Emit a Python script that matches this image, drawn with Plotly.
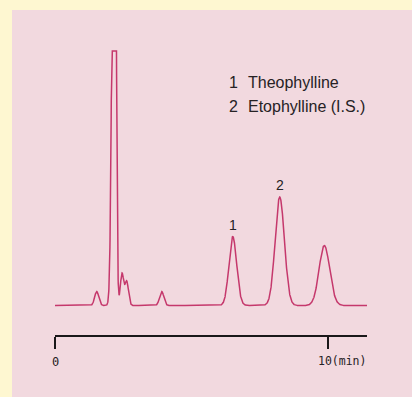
import numpy as np
import plotly.graph_objects as go

# Peak table of the chromatogram (retention time in min, height in arbitrary units,
# left/right peak widths as standard deviations in min)
peak_times = [1.526, 2.177, 2.452, 2.623, 3.904, 6.502, 8.222, 9.853]
peak_heights = [14, 700, 32, 24, 14, 69, 108.5, 60]
peak_sigma_left = [0.075, 0.075, 0.062, 0.062, 0.078, 0.138, 0.168, 0.19]
peak_sigma_right = [0.075, 0.0512, 0.062, 0.066, 0.078, 0.145, 0.172, 0.198]

# Recorder full scale (the solvent front goes off-scale)
full_scale = 254.5

# Run length and time axis ticks
run_end = 11.416
tick_times = [0, 10]
tick_labels = ["0", "10(min)"]

# Identified peaks and the legend listing them
peak_ids = ["1", "2"]
peak_id_index = [5, 6]
compound_names = ["Theophylline", "Etophylline (I.S.)"]

TRACE = "#C5386C"
INK = "#262224"
AXIS = "#1a1819"
PINK = "#F2D9DF"
CREAM = "#FEF7D1"

t = np.linspace(0, run_end, 3000)
signal = np.zeros_like(t)
for rt, h, sl, sr in zip(peak_times, peak_heights, peak_sigma_left, peak_sigma_right):
    s = np.where(t < rt, sl, sr)
    signal += h * np.exp(-0.5 * ((t - rt) / s) ** 2)
signal = np.minimum(signal, full_scale)

fig = go.Figure(
    go.Scatter(
        x=t, y=signal, mode="lines",
        line=dict(color=TRACE, width=1.5),
        hoverinfo="skip", showlegend=False,
    )
)

annotations = []

# peak numbers above identified peaks
for pid, idx in zip(peak_ids, peak_id_index):
    annotations.append(dict(
        x=peak_times[idx], y=peak_heights[idx], xref="x", yref="y",
        text=pid, showarrow=False, yanchor="middle", xanchor="center",
        yshift=12, font=dict(family="Liberation Sans, Arial, sans-serif", size=14, color=INK),
    ))

# compound list
legend_y = [0.855, 0.7756]
for pid, name, yy in zip(peak_ids, compound_names, legend_y):
    annotations.append(dict(
        x=0.551, y=yy, xref="paper", yref="paper", text=pid, showarrow=False,
        xanchor="left", yanchor="middle",
        font=dict(family="Liberation Sans, Arial, sans-serif", size=16, color=INK),
    ))
    annotations.append(dict(
        x=0.611, y=yy, xref="paper", yref="paper", text=name, showarrow=False,
        xanchor="left", yanchor="middle",
        font=dict(family="Liberation Sans, Arial, sans-serif", size=16, color=INK),
    ))

# time axis labels
annotations.append(dict(
    x=tick_times[0], y=-0.0915, xref="x", yref="paper", text=tick_labels[0],
    showarrow=False, xanchor="center", yanchor="middle",
    font=dict(family="DejaVu Sans Mono, monospace", size=12, color=INK),
))
annotations.append(dict(
    x=tick_times[1] - 0.45, y=-0.0865, xref="x", yref="paper", text=tick_labels[1],
    showarrow=False, xanchor="left", yanchor="middle",
    font=dict(family="DejaVu Sans Mono, monospace", size=11.5, color=INK),
))

fig.update_layout(
    width=412, height=397, autosize=False,
    margin=dict(l=55, r=45, t=40, b=62, pad=0),
    paper_bgcolor=CREAM, plot_bgcolor="rgba(0,0,0,0)",
    shapes=[dict(
        type="rect", xref="paper", yref="paper",
        x0=-0.1378, x1=1.2, y0=-0.25, y1=1.1017,
        fillcolor=PINK, line=dict(width=0), layer="below",
    )],
    annotations=annotations,
    xaxis=dict(
        range=[0, run_end], showgrid=False, zeroline=False,
        showline=True, linecolor=AXIS, linewidth=2,
        ticks="outside", tickvals=tick_times, ticklen=12, tickwidth=2, tickcolor=AXIS,
        showticklabels=False, fixedrange=True,
    ),
    yaxis=dict(range=[-29.5, 265.5], visible=False, fixedrange=True),
)

fig.write_html("out.html", config={"displayModeBar": False})
